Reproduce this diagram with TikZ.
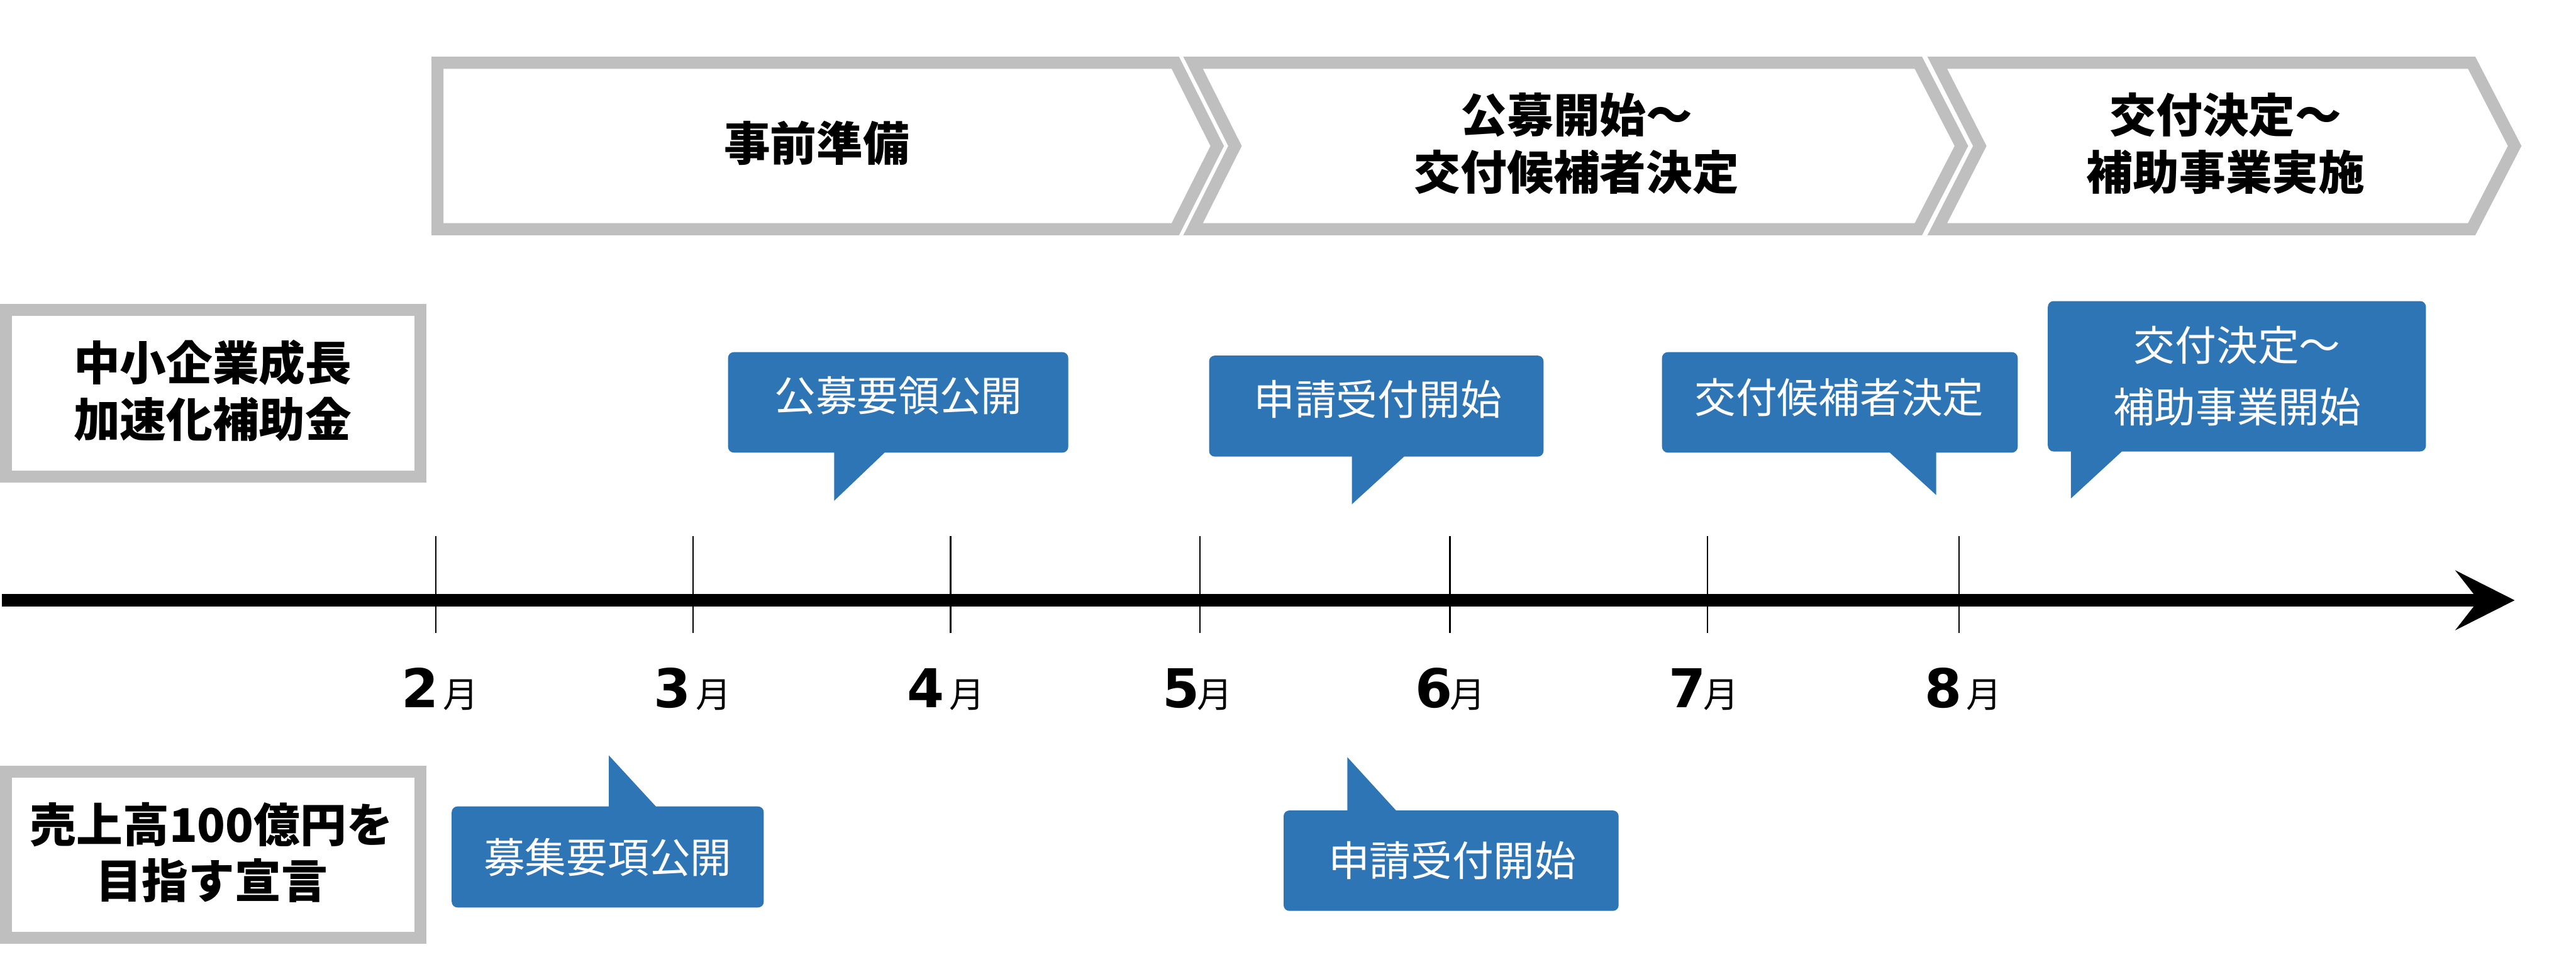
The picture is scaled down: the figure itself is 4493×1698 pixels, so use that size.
\documentclass[tikz,border=0pt]{standalone}
\usepackage{fontspec}
\setmainfont{Noto Sans CJK JP}
\newfontfamily\numfont{DejaVu Sans}
\definecolor{bblue}{HTML}{2E75B6}
\definecolor{bgray}{HTML}{BFBFBF}
\newcommand\mnum[1]{{\numfont\fontsize{26.5pt}{30pt}\bfseries #1}}
\newcommand\mmon{{\fontsize{17.6pt}{20pt}\selectfont 月}}
\begin{document}
\begin{tikzpicture}[x=0.01cm,y=-0.01cm,
  frame/.style={draw=bgray, line width=0.21cm, fill=white, line join=miter},
  headtxt/.style={font=\fontsize{23pt}{28.5pt}\selectfont\bfseries, align=center, text=black, inner sep=0},
  boxtxt/.style={font=\fontsize{23pt}{27.9pt}\selectfont\bfseries, align=center, text=black, inner sep=0},
  bubble/.style={fill=bblue, rounded corners=0.1cm, inner sep=0, draw=none},
  btxt/.style={font=\fontsize{20.5pt}{30.4pt}\selectfont, text=white, align=center, inner sep=0},
  tickline/.style={line width=0.025cm, black},
  month/.style={anchor=base, inner sep=0},
]
\useasboundingbox (0,0) rectangle (4493,1698);

% phase chevrons
\draw[frame] (763,109.5) -- (2050,109.5) -- (2123,254.5) -- (2050,399.5) -- (763,399.5) -- cycle;
\node[headtxt] (c1) at (1424.5,250) {事前準備};
\draw[frame] (2081,109.5) -- (3346,109.5) -- (3421,254.5) -- (3346,399.5) -- (2081,399.5) -- (2154,254.5) -- cycle;
\node[headtxt] (c2) at (2750,250) {公募開始～\\交付候補者決定};
\draw[frame] (3379,109.5) -- (4311,109.5) -- (4386,254.5) -- (4311,399.5) -- (3379,399.5) -- (3453,254.5) -- cycle;
\node[headtxt] (c3) at (3882,250) {交付決定～\\補助事業実施};

% left boxes
\draw[frame] (10.5,540.5) rectangle (733,830.5);
\node[boxtxt] (l1) at (371,681) {中小企業成長\\加速化補助金};
\draw[frame] (10.5,1345.5) rectangle (733.5,1634.5);
\node[boxtxt] (l2) at (369,1486) {売上高100億円を\\目指す宣言};

% timeline
\coordinate (ts) at (3,1046.5);
\coordinate (te) at (4323,1046.5);
\coordinate (tip) at (4386,1046.5);
\foreach \x in {760.5,1209,1658,2093,2529,2978,3417}
  \draw[tickline] (\x,935) -- (\x,1104);
\draw[line width=0.21cm] (ts) -- (te);
\fill (tip) -- (4282,994) -- (te) -- (4282,1099) -- cycle;

% month labels
\node[month] (m2) at (767.5,1234) {\mnum{2}\kern0.08cm\mmon};
\node[month] (m3) at (1208,1234) {\mnum{3}\kern0.08cm\mmon};
\node[month] (m4) at (1650,1234) {\mnum{4}\kern0.08cm\mmon};
\node[month] (m5) at (2089,1234) {\mnum{5}\kern-0.05cm\mmon};
\node[month] (m6) at (2530,1234) {\mnum{6}\kern-0.05cm\mmon};
\node[month] (m7) at (2972,1234) {\mnum{7}\kern-0.05cm\mmon};
\node[month] (m8) at (3424,1234) {\mnum{8}\kern0.08cm\mmon};

% callouts above
\node[bubble, minimum width=5.93cm, minimum height=1.75cm] (b1) at (1566.5,701.5) {};
\fill[bblue] (1455,780) -- (1455,873) -- (1543,789) -- (1543,780) -- cycle;
\node[btxt] (b1t) at (1567,690) {公募要領公開};

\node[bubble, minimum width=5.83cm, minimum height=1.76cm] (b2) at (2400.5,708) {};
\fill[bblue] (2358,788) -- (2358,879) -- (2449,796) -- (2449,788) -- cycle;
\node[btxt] (b2t) at (2403,696) {申請受付開始};

\node[bubble, minimum width=6.2cm, minimum height=1.75cm] (b3) at (3209,701.5) {};
\fill[bblue] (3296,780) -- (3296,789) -- (3377,863) -- (3377,780) -- cycle;
\node[btxt] (b3t) at (3208,693) {交付候補者決定};

\node[bubble, minimum width=6.59cm, minimum height=2.62cm] (b4) at (3901.5,656) {};
\fill[bblue] (3612,778) -- (3612,869) -- (3701,787) -- (3701,778) -- cycle;
\node[btxt] (b4t) at (3902,655.5) {交付決定～\\補助事業開始};

% callouts below
\node[bubble, minimum width=5.44cm, minimum height=1.76cm] (b5) at (1060,1494) {};
\fill[bblue] (1062,1414) -- (1062,1317) -- (1144,1406) -- (1144,1414) -- cycle;
\node[btxt] (b5t) at (1060,1495) {募集要項公開};

\node[bubble, minimum width=5.84cm, minimum height=1.75cm] (b6) at (2531,1500.5) {};
\fill[bblue] (2350,1421) -- (2350,1320) -- (2435,1413) -- (2435,1421) -- cycle;
\node[btxt] (b6t) at (2533,1500) {申請受付開始};
\end{tikzpicture}
\end{document}
